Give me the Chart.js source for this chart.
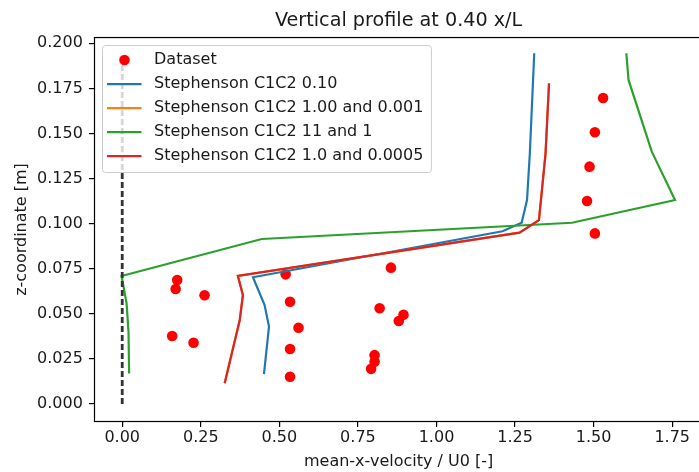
<!DOCTYPE html>
<html lang="en">
<head>
    <meta charset="UTF-8">
    <title>Vertical profile at 0.40 x/L</title>
    <script src="https://cdn.jsdelivr.net/npm/chart.js"></script>
    <style>
        body {
            margin: 0;
            background: #fff;
            overflow: hidden;
        }
        .wrap {
            width: 699px;
            height: 472px;
            overflow: hidden;
        }
    </style>
</head>
<body>
    <div class="wrap">
        <canvas id="profile" width="708" height="472"></canvas>
    </div>
    <script>
        // measured points: velocity (mean-x / U0) and height z [m]
        const measU = [1.530, 1.504, 1.487, 1.479, 1.504,
                       0.175, 0.170, 0.262, 0.159, 0.227,
                       0.520, 0.534, 0.561, 0.534, 0.534,
                       0.855, 0.819, 0.895, 0.880, 0.803, 0.803, 0.792];
        const measZ = [0.1697, 0.1507, 0.1316, 0.1126, 0.0946,
                       0.0688, 0.0638, 0.0603, 0.0377, 0.0340,
                       0.0719, 0.0567, 0.0423, 0.0305, 0.0151,
                       0.0756, 0.0531, 0.0495, 0.0460, 0.0271, 0.0234, 0.0195];

        // Stephenson C1C2 0.10
        const c010U = [1.311, 1.297, 1.288, 1.271, 1.210, 0.416, 0.453, 0.467, 0.451];
        const c010Z = [0.1945, 0.1390, 0.1131, 0.1005, 0.0958, 0.0703, 0.0549, 0.0429, 0.0166];

        // Stephenson C1C2 1.00 and 0.001
        const c100U = [1.358, 1.347, 1.326, 1.264, 0.368, 0.384, 0.374, 0.326];
        const c100Z = [0.1778, 0.1390, 0.1020, 0.0950, 0.0710, 0.0604, 0.0466, 0.0115];

        // Stephenson C1C2 11 and 1
        const c11U = [1.604, 1.611, 1.685, 1.759, 1.431, 0.444, -0.002, 0.014, 0.020, 0.022];
        const c11Z = [0.1945, 0.1797, 0.1399, 0.1131, 0.1005, 0.0915, 0.0710, 0.0557, 0.0400, 0.0169];

        // Stephenson C1C2 1.0 and 0.0005
        const c10U = [1.358, 1.347, 1.326, 1.264, 0.368, 0.384, 0.374, 0.326];
        const c10Z = [0.1778, 0.1390, 0.1020, 0.0950, 0.0710, 0.0604, 0.0466, 0.0115];

        // zero-velocity reference
        const zeroU = [0, 0];
        const zeroZ = [0, 0.1945];

        const xTicks = [0, 0.25, 0.5, 0.75, 1.0, 1.25, 1.5, 1.75];
        const zTicks = [0, 0.025, 0.05, 0.075, 0.1, 0.125, 0.15, 0.175, 0.2];

        const pts = (us, zs) => us.map((u, i) => ({ x: u, y: zs[i] }));

        const FONT = 'DejaVu Sans';
        const INK = '#1a1a1a';

        function lineSet(label, us, zs, color, order) {
            return {
                label: label,
                data: pts(us, zs),
                showLine: true,
                borderColor: color,
                backgroundColor: color,
                borderWidth: 2.2,
                pointRadius: 0,
                tension: 0,
                order: order
            };
        }

        // axes frame plus a matplotlib-style legend box in the upper left
        const frameAndLegend = {
            id: 'frameAndLegend',
            afterDatasetsDraw(chart) {
                const { ctx, chartArea: a } = chart;
                ctx.save();
                ctx.strokeStyle = '#000';
                ctx.lineWidth = 1.2;
                ctx.strokeRect(a.left, a.top, a.right - a.left, a.bottom - a.top);

                const items = chart.data.datasets.filter(d => d.label);
                ctx.font = '16px ' + FONT;
                const textW = Math.max(...items.map(d => ctx.measureText(d.label).width));
                const bx = a.left + 8, by = a.top + 8;
                const textX = bx + 51.5;
                const bw = textX - bx + textW + 8, bh = 127;

                ctx.beginPath();
                if (ctx.roundRect) ctx.roundRect(bx, by, bw, bh, 3);
                else ctx.rect(bx, by, bw, bh);
                ctx.fillStyle = 'rgba(255,255,255,0.8)';
                ctx.fill();
                ctx.strokeStyle = '#cccccc';
                ctx.lineWidth = 1;
                ctx.stroke();

                items.forEach((d, i) => {
                    const cy = by + 14.5 + i * 24;
                    if (d.showLine) {
                        ctx.beginPath();
                        ctx.moveTo(bx + 4.5, cy);
                        ctx.lineTo(bx + 39, cy);
                        ctx.strokeStyle = d.borderColor;
                        ctx.lineWidth = d.borderWidth;
                        ctx.stroke();
                    } else {
                        ctx.beginPath();
                        ctx.arc(bx + 22, cy, d.pointRadius, 0, Math.PI * 2);
                        ctx.fillStyle = d.pointBackgroundColor;
                        ctx.fill();
                    }
                    ctx.fillStyle = INK;
                    ctx.textBaseline = 'middle';
                    ctx.textAlign = 'left';
                    ctx.fillText(d.label, textX, cy);
                });
                ctx.restore();
            }
        };

        new Chart(document.getElementById('profile'), {
            type: 'scatter',
            data: {
                datasets: [
                    {
                        data: pts(zeroU, zeroZ),
                        showLine: true,
                        borderColor: '#333333',
                        borderWidth: 2.8,
                        borderDash: [6, 3],
                        pointRadius: 0,
                        order: 0
                    },
                    {
                        label: 'Dataset',
                        data: pts(measU, measZ),
                        showLine: false,
                        pointRadius: 5.3,
                        pointBackgroundColor: '#ff0000',
                        pointBorderWidth: 0,
                        order: 5
                    },
                    lineSet('Stephenson C1C2 0.10', c010U, c010Z, '#1f77b4', 4),
                    lineSet('Stephenson C1C2 1.00 and 0.001', c100U, c100Z, '#ff7f0e', 3),
                    lineSet('Stephenson C1C2 11 and 1', c11U, c11Z, '#2ca02c', 2),
                    lineSet('Stephenson C1C2 1.0 and 0.0005', c10U, c10Z, '#d62728', 1)
                ]
            },
            options: {
                responsive: false,
                animation: false,
                devicePixelRatio: 1,
                layout: { padding: { left: 0, right: 3.7, top: 0, bottom: 0 } },
                plugins: {
                    legend: { display: false },
                    tooltip: { enabled: false },
                    title: {
                        display: true,
                        fullSize: false,
                        text: 'Vertical profile at 0.40 x/L',
                        color: INK,
                        font: { family: FONT, size: 19.2, weight: 'normal' },
                        padding: { top: 9.5, bottom: 5 }
                    }
                },
                scales: {
                    x: {
                        type: 'linear',
                        min: -0.0882,
                        max: 1.847,
                        afterFit: s => { s.height = 50.5; },
                        afterBuildTicks: s => { s.ticks = xTicks.map(v => ({ value: v })); },
                        border: { display: false },
                        grid: { drawOnChartArea: false, drawTicks: true, tickLength: 5.6, color: '#000', lineWidth: 1.2 },
                        ticks: {
                            autoSkip: false,
                            maxRotation: 0,
                            padding: 1,
                            color: INK,
                            font: { family: FONT, size: 16 },
                            callback: v => Number(v).toFixed(2)
                        },
                        title: {
                            display: true,
                            text: 'mean-x-velocity / U0 [-]',
                            color: INK,
                            font: { family: FONT, size: 16 },
                            padding: { top: 0, bottom: 1 }
                        }
                    },
                    y: {
                        type: 'linear',
                        min: -0.0097,
                        max: 0.2032,
                        afterFit: s => { s.width = 94.5; },
                        afterBuildTicks: s => { s.ticks = zTicks.map(v => ({ value: v })); },
                        border: { display: false },
                        grid: { drawOnChartArea: false, drawTicks: true, tickLength: 5.6, color: '#000', lineWidth: 1.2 },
                        ticks: {
                            autoSkip: false,
                            padding: 6,
                            color: INK,
                            font: { family: FONT, size: 16 },
                            callback: v => Number(v).toFixed(3)
                        },
                        title: {
                            display: true,
                            text: 'z-coordinate [m]',
                            color: INK,
                            font: { family: FONT, size: 16 },
                            padding: { top: 12, bottom: 0 }
                        }
                    }
                }
            },
            plugins: [frameAndLegend]
        });
    </script>
</body>
</html>
